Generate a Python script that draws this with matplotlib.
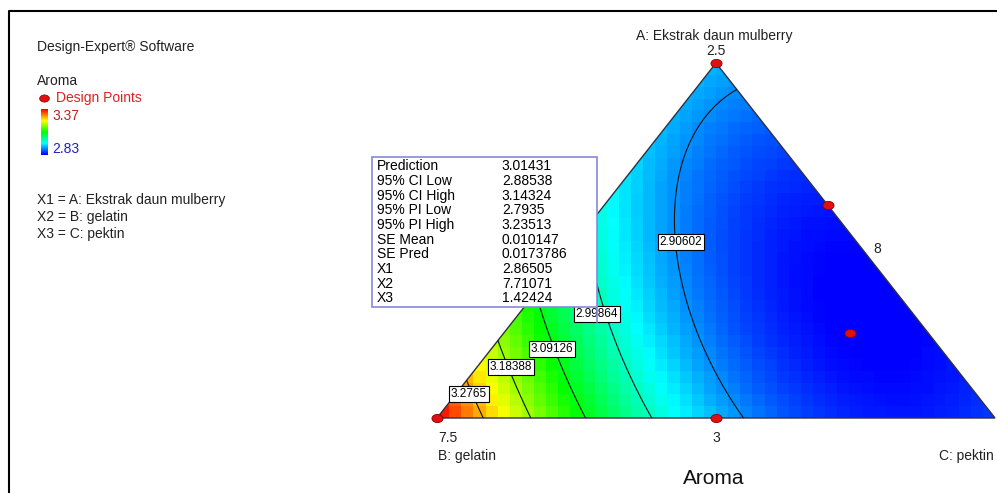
import numpy as np
import matplotlib
matplotlib.use("Agg")
import matplotlib.pyplot as plt
from matplotlib.colors import LinearSegmentedColormap, Normalize
from matplotlib.patches import Polygon, Rectangle
from matplotlib.lines import Line2D
from matplotlib.path import Path
from matplotlib.transforms import Affine2D

plt.rcParams['font.family'] = ['Liberation Sans', 'DejaVu Sans']

# ---------------- data ----------------
a_hi, b_hi, c_hi = 3.0, 8.0, 1.5          # upper bounds of A, B, C
total = 12.0
R = a_hi + b_hi + c_hi - total             # range of the U-pseudo simplex

# Scheffe quadratic model for Aroma in U-pseudo components
coef_linear = [2.928, 3.377, 2.864]        # A, B, C
coef_binary = [-0.557, -0.249, -0.764]     # AB, AC, BC

levels = [2.90602, 2.99864, 3.09126, 3.18388, 3.2765]
resp_min, resp_max = 2.83, 3.37

design_A = [2.50, 3.00, 3.00, 2.70, 2.88]
design_B = [8.00, 7.50, 7.75, 8.00, 7.93]
design_C = [1.50, 1.50, 1.25, 1.30, 1.19]

flag_X = [2.86505, 7.71071, 1.42424]
flag_names = ["Prediction", "95% CI Low", "95% CI High", "95% PI Low", "95% PI High",
              "SE Mean", "SE Pred", "X1", "X2", "X3"]
flag_values = ["3.01431", "2.88538", "3.14324", "2.7935", "3.23513",
               "0.010147", "0.0173786", "2.86505", "7.71071", "1.42424"]


def model(fa, fc):
    fb = 1 - fa - fc
    b1, b2, b3 = coef_linear
    b12, b13, b23 = coef_binary
    return b1*fa + b2*fb + b3*fc + b12*fa*fb + b13*fa*fc + b23*fb*fc


def to_xy(A, B, C):
    fa = (a_hi - np.asarray(A, dtype=float)) / R
    fc = (c_hi - np.asarray(C, dtype=float)) / R
    return fc + 0.5*fa, fa

# ---------------- figure ----------------
W, H = 997, 493
fig = plt.figure(figsize=(W/100, H/100), dpi=100)


def fx(px):
    return px / W


def fy(py):
    return 1 - py / H

cmap = LinearSegmentedColormap.from_list(
    "de", ["#0000ff", "#00ffff", "#00ff00", "#ffff00", "#ff0000"])
norm = Normalize(resp_min, resp_max)

ax = fig.add_axes([fx(437), fy(418), 558/W, 355/H])
ax.set_xlim(0, 1)
ax.set_ylim(0, 1)
ax.axis("off")

tri = Polygon([(0, 0), (1, 0), (0.5, 1)], closed=True, transform=ax.transData,
              facecolor="none", edgecolor="none")
ax.add_patch(tri)

# blocky response grid
ue = np.linspace(0, 1, 47)
ve = np.linspace(0, 1, 31)
uc = 0.5*(ue[1:] + ue[:-1])
vc = 0.5*(ve[1:] + ve[:-1])
UC, VC = np.meshgrid(uc, vc)
Z = model(VC, UC - 0.5*VC)
mesh = ax.pcolormesh(ue, ve, Z, cmap=cmap, norm=norm, shading="flat")
mesh.set_clip_path(tri)

# contour lines
uf = np.linspace(0, 1, 400)
vf = np.linspace(0, 1, 400)
UF, VF = np.meshgrid(uf, vf)
ZF = model(VF, UF - 0.5*VF)
cs = ax.contour(UF, VF, ZF, levels=levels, colors="#101010", linewidths=0.8)
cs.set_clip_path(tri)

ax.add_patch(Polygon([(0, 0), (1, 0), (0.5, 1)], closed=True, fill=False,
                     edgecolor="#303040", linewidth=1.0, clip_on=False))

label_pos = [(0.4373, 0.4958), (0.2867, 0.293), (0.2061, 0.1944), (0.1326, 0.1437), (0.0573, 0.0676)]
for lev, (u, v) in zip(levels, label_pos):
    ax.text(u, v, f"{lev:g}", fontsize=8.5, ha="center", va="center", zorder=6,
            bbox=dict(boxstyle="square,pad=0.15", facecolor="white", edgecolor="black", linewidth=0.8))

# design points
ell = Path.unit_circle().transformed(Affine2D().scale(1.35, 1.0))
du, dv = to_xy(design_A, design_B, design_C)
ax.plot(du, dv, ls="none", marker=ell, ms=8, mfc="#e01010", mec="#8a0000", mew=0.6,
        clip_on=False, zorder=7)

# flag box at the predicted point
fu, fv = to_xy(flag_X[0], flag_X[1], flag_X[2])
fig.canvas.draw()
px, py = ax.transData.transform((float(fu), float(fv)))
box_w, box_h, gap = 225, 150, 15
bl, bb = px - box_w, py + gap
inv = fig.transFigure.inverted()
(x0, y0) = inv.transform((bl, bb))
(x1, y1) = inv.transform((px, bb + box_h))
fig.patches.append(Rectangle((x0, y0), x1 - x0, y1 - y0, transform=fig.transFigure,
                             facecolor="white", edgecolor="#8888dd", linewidth=1.2, zorder=8))
(lx0, ly0) = inv.transform((px, py))
fig.lines.append(Line2D([lx0, lx0], [ly0, y0], transform=fig.transFigure, color="#8888dd",
                        linewidth=1.2, zorder=8))
for i, (n, val) in enumerate(zip(flag_names, flag_values)):
    yy = bb + box_h - 9 - i*14.7
    tx, ty = inv.transform((bl + 5, yy))
    vx, _ = inv.transform((bl + 130, yy))
    fig.text(tx, ty, n, fontsize=10, ha="left", va="center", zorder=9)
    fig.text(vx, ty, val, fontsize=10, ha="left", va="center", zorder=9)

# axis annotations
txt = dict(fontsize=10, va="center", color="#222222")
fig.text(fx(714), fy(36), "A: Ekstrak daun mulberry", ha="center", **txt)
fig.text(fx(716), fy(51), "2.5", ha="center", **txt)
fig.text(fx(438), fy(438), "7.5", ha="left", **txt)
fig.text(fx(438), fy(456), "B: gelatin", ha="left", **txt)
fig.text(fx(716), fy(438), "3", ha="center", **txt)
fig.text(fx(877), fy(249), "8", ha="center", **txt)
fig.text(fx(939), fy(456), "C: pektin", ha="left", **txt)
fig.text(fx(714), fy(479), "Aroma", fontsize=15, ha="center", va="center", color="#111111")

# legend
fig.text(fx(37), fy(47), "Design-Expert® Software", ha="left", **txt)
fig.text(fx(37), fy(81), "Aroma", ha="left", **txt)
fig.lines.append(Line2D([fx(44)], [fy(98)], transform=fig.transFigure, ls="none", marker=ell,
                        ms=7, mfc="#e01010", mec="#8a0000", mew=0.5))
fig.text(fx(56), fy(98), "Design Points", fontsize=10, ha="left", va="center", color="#e02020")
cax = fig.add_axes([fx(41), fy(155), 7/W, 46/H])
cax.imshow(np.linspace(resp_max, resp_min, 100)[:, None], cmap=cmap, norm=norm, aspect="auto")
cax.axis("off")
fig.text(fx(52), fy(116), f"{resp_max:.2f}", fontsize=10, ha="left", va="center", color="#c02020")
fig.text(fx(52), fy(149), f"{resp_min:.2f}", fontsize=10, ha="left", va="center", color="#2020c0")
for i, s in enumerate(["X1 = A: Ekstrak daun mulberry", "X2 = B: gelatin", "X3 = C: pektin"]):
    fig.text(fx(37), fy(200 + 17*i), s, ha="left", **txt)

# frame
fig.lines.append(Line2D([fx(9), fx(9), 1.0], [0.0, fy(11), fy(11)], transform=fig.transFigure,
                        color="black", linewidth=1.5))

fig.savefig("out.png", dpi=100)
